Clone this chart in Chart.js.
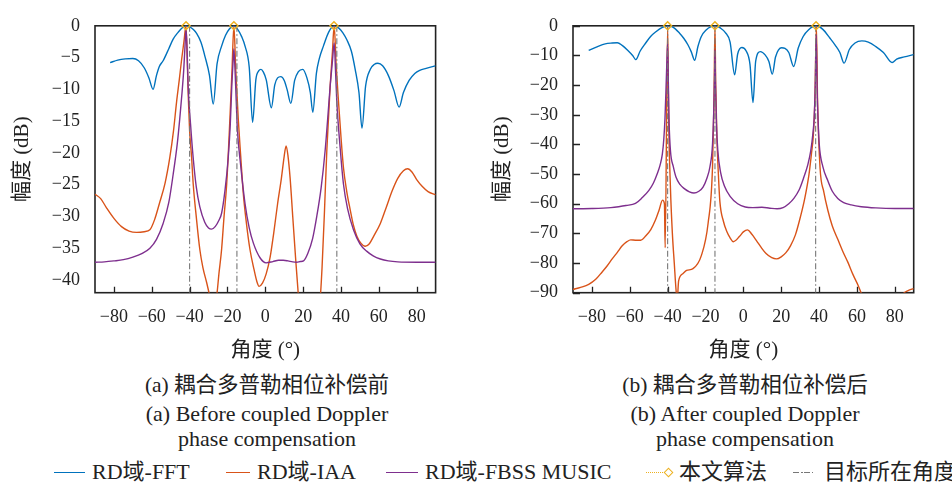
<!DOCTYPE html>
<html>
<head>
<meta charset="utf-8">
<script src="https://cdn.jsdelivr.net/npm/chart.js@4.4.1/dist/chart.umd.min.js"></script>
<style>
  html, body { margin:0; padding:0; background:#fff; }
  body { width:952px; height:483px; position:relative; overflow:hidden;
         font-family:'Liberation Serif','Noto Sans CJK SC',serif; color:#222; }
  canvas { position:absolute; top:0; }
  .cap { position:absolute; width:400px; text-align:center; font-size:22px; line-height:25px; white-space:nowrap; }
  .cz { font-size:21.5px; }
  .lg { position:absolute; top:460px; font-size:22px; line-height:24px; white-space:nowrap; }
  .sw { position:absolute; height:0; }
</style>
</head>
<body>
<canvas id="ca" width="476" height="365" style="left:0"></canvas>
<canvas id="cb" width="476" height="365" style="left:476px"></canvas>

<div class="cap cz" style="left:67px; top:373px">(a) 耦合多普勒相位补偿前</div>
<div class="cap" style="left:67px; top:401px">(a) Before coupled Doppler</div>
<div class="cap" style="left:67px; top:426px">phase compensation</div>
<div class="cap cz" style="left:545px; top:373px">(b) 耦合多普勒相位补偿后</div>
<div class="cap" style="left:545px; top:401px">(b) After coupled Doppler</div>
<div class="cap" style="left:545px; top:426px">phase compensation</div>

<div class="sw" style="left:54px; width:31px; top:472px; border-top:1.5px solid #0072BD"></div>
<div class="lg" style="left:92px">RD域-FFT</div>
<div class="sw" style="left:226px; width:24px; top:472px; border-top:1.5px solid #D95319"></div>
<div class="lg" style="left:257px">RD域-IAA</div>
<div class="sw" style="left:386px; width:32px; top:472px; border-top:1.5px solid #7E2F8E"></div>
<div class="lg" style="left:425px">RD域-FBSS MUSIC</div>
<div class="sw" style="left:646px; width:19px; top:472px; border-top:1.5px dotted #EDB120"></div>
<div class="sw" style="left:665px; top:469px; width:5px; height:5px; border:1.3px solid #EDB120; transform:rotate(45deg)"></div>
<div class="lg" style="left:679px">本文算法</div>
<div class="sw" style="left:793px; width:22px; top:472px; height:1.3px; background:repeating-linear-gradient(90deg,#777 0 6px,transparent 6px 8px,#777 8px 9.5px,transparent 9.5px 11px)"></div>
<div class="lg" style="left:824px">目标所在角度</div>

<script>
// ---------- tick labels ----------
const xTicks  = [-80, -60, -40, -20, 0, 20, 40, 60, 80];
const yTicksA = [0, -5, -10, -15, -20, -25, -30, -35, -40];
const yTicksB = [0, -10, -20, -30, -40, -50, -60, -70, -80, -90];

// ---------- (a) before compensation ----------
const angA_fft = [-82,-78,-74,-70,-67,-64,-61.5,-59.3,-57.5,-56,-54,-51,-48.7,-46,-44,-41.7,-40,-38,-36.3,-34,-31.9,-29.5,-27.5,-25.5,-23.1,-21,-19,-16.6,-14.5,-12.5,-10.7,-8.5,-6.7,-5,-3.5,-2.3,-1,0.5,3.2,5,6.5,8.2,10,11.5,13.5,15.5,17.5,19.8,22,23.8,25.1,27,28.5,30.7,33.5,36.4,39,41,43.1,45.5,47.5,49.5,51.1,53,55.5,57.5,59.5,62,65,68,70.7,73,76,79,81.6,85,90];
const dbA_fft  = [-5.8,-5.4,-5.2,-5.15,-5.5,-6.6,-8.2,-10,-7.8,-6.4,-5.5,-3.6,-2.1,-1.0,-0.35,0,-0.15,-0.6,-1.2,-2.6,-4.8,-7.8,-12.3,-6,-3.2,-1.5,-0.5,0,-0.6,-1.7,-3.2,-6.5,-15.2,-8.5,-7.1,-6.85,-7.3,-8.5,-12.9,-9.3,-8.2,-8.0,-8.6,-10,-12.2,-8.6,-7.2,-6.85,-8.2,-10.5,-13.6,-7.5,-5.2,-3.2,-1.0,0,-0.4,-1.1,-2.2,-4,-6.85,-10.5,-16.1,-9.5,-6.85,-6.1,-5.9,-6.3,-7.8,-10.2,-12.8,-10.5,-8.6,-7.5,-7,-6.7,-6.3];

const angA_iaa = [-90,-87,-84,-80,-76,-72,-68,-64,-61,-58.5,-56,-53,-50.5,-48.5,-46.9,-45.5,-44.3,-43,-41.9,-41.2,-40.6,-40,-39,-38.1,-36.5,-34.6,-33,-31,-29.3,-27.5,-25.7,-24.5,-23.1,-21.8,-20.4,-18.7,-17.6,-16.6,-15.6,-14.3,-13,-11.6,-10,-8.1,-6,-4.5,-3.3,-1.5,0.5,2.5,4.5,6.5,8.5,10,11,12,13.1,14.5,16,17.5,20,26,29,30,31.3,32.5,33.5,34.3,35.5,36.4,37.5,38.7,40,41.3,43,44.9,46.5,48.4,50.5,52.8,55,57.3,60.8,64,67,70,73,75.2,77.5,80,83,86,90];
const dbA_iaa  = [-26.5,-27.2,-28.6,-30.3,-31.6,-32.3,-32.5,-32.4,-32.1,-30.5,-28,-24.8,-20.8,-16.5,-12,-8.6,-5.5,-2.5,0,-6,-12,-16.5,-20.5,-24.9,-30,-35.2,-38,-40.4,-42.5,-44,-42.5,-39,-35.2,-30,-24.9,-14.6,-7,0,-7,-14.6,-20.5,-26.5,-31,-35.2,-38.3,-40.2,-41,-40.5,-39,-36.5,-32.5,-28,-24,-20.5,-18.9,-20.5,-23.9,-30,-36.5,-42.5,-50,-50,-43,-38,-29,-19.7,-14,-9.4,-4,0,-6.5,-12,-17.5,-22.3,-26,-29,-31.3,-33.1,-34.2,-34.7,-34.3,-33.1,-31.1,-28.5,-26,-24,-22.8,-22.5,-23,-24.2,-25.3,-26.1,-26.6];

const angA_mus = [-90,-85,-80,-75,-70,-65,-61,-57.5,-54,-51,-48.7,-46.5,-45.2,-44,-43.1,-42.4,-41.9,-41.3,-40.8,-39.5,-38.1,-36.5,-34.6,-32,-30,-28.4,-26.5,-24.5,-23.1,-21.3,-19.6,-18.5,-17.7,-17.1,-16.6,-16,-15.4,-14.8,-13,-10.7,-8.5,-6.3,-2.8,0.4,4,7,9.5,12,14.5,16.6,18.5,20.2,22.5,25,27.2,29.5,31.6,33,34.3,35.5,36.4,37.1,37.8,39.5,41.3,43.5,46.6,50,53.7,57,60.8,65,70,80,90];
const dbA_mus  = [-37.2,-37.15,-37.0,-36.8,-36.4,-35.8,-35,-33.6,-31.1,-27.8,-23.4,-18.5,-14.6,-10.5,-6.9,-3,-0.5,-4,-9.4,-15.5,-20.8,-25.3,-28.5,-30.9,-31.8,-32,-31.6,-30.6,-29.5,-25.9,-20.8,-15.5,-9.4,-6,-3.6,-7,-11.5,-16.1,-22,-28,-31.8,-34.2,-36.5,-37.3,-37.1,-36.9,-36.9,-37.0,-37.15,-37.2,-37.1,-37,-35.8,-33.5,-30,-25.5,-19.7,-14.5,-9.4,-5.5,-2.7,-7,-12,-19,-24.9,-28.8,-32.1,-34.3,-35.5,-36.2,-36.7,-37,-37.15,-37.2,-37.2];

const angA_ours = [-41.9, -16.6, 36.3];
const dbA_ours  = [0, 0, 0];
const targetsA  = [-40, -15, 37.8];

// ---------- (b) after compensation ----------
const angB_fft = [-81.7,-77,-73,-69.3,-66.6,-64,-61,-58.5,-56.8,-54.5,-51.6,-49,-46.2,-43,-40,-37,-33.7,-31.5,-29.3,-27.5,-25.7,-24,-22.2,-19.5,-17,-15,-12,-9.5,-7,-4.6,-3,-0.8,1.5,3.5,5.1,6.5,9,11.5,13.5,15.3,17,20.2,22,24,26.6,29,31.6,34.5,38.4,42,45.8,48.5,51,53.2,56,59,62.6,66,70,74,78.6,81,85,90];
const dbB_fft  = [-8.3,-7.0,-6.1,-5.8,-5.7,-6.6,-8.3,-10,-11.4,-8.5,-5.8,-3.6,-2,-0.6,0,-0.5,-2.5,-4.2,-6.4,-8.8,-11.6,-7,-3.6,-1.3,-0.3,0,-0.8,-2.3,-5.5,-16.5,-9.5,-7.3,-8.5,-13,-25.9,-12,-8.7,-9.8,-12,-16.3,-10.5,-7.4,-7.6,-9,-13.7,-7.5,-3.6,-1.3,0,-1.2,-4.2,-6.5,-9,-12.6,-8,-5.8,-5.1,-5.5,-7,-9,-12.4,-11.2,-10.5,-9.7];

const angB_iaa = [-90,-86,-81.7,-78,-74.6,-72,-69.3,-66.5,-64,-61.5,-59.5,-57,-54.2,-51.5,-48.9,-46.5,-44.5,-42.7,-41.7,-41.3,-40,-39.5,-38.5,-37.5,-36.5,-35.5,-34.9,-34.2,-32,-30,-26.6,-22.2,-18.6,-16.3,-15.5,-15,-14.6,-14,-13.2,-12.4,-10.5,-8.8,-7,-5.3,-2,0,2.2,4.5,7,9.5,12,15,17.5,20,22.5,24.9,27.5,30.2,32.5,34.7,36,37,37.8,38.6,39.2,40.5,42.5,44.6,47,49.9,52.5,55.2,58,60.6,62.5,66,75,82,84.5,87,90];
const dbB_iaa  = [-88.9,-88.2,-87.2,-85.5,-83,-81,-78.6,-76.3,-74.2,-72.8,-72.2,-72.3,-72.3,-70.8,-68.7,-65.6,-62.1,-58.8,-60,-74.8,0,-30,-55,-70,-80,-89.5,-92,-86,-83.6,-82.5,-81.9,-77.5,-66.5,-47.8,-25,0,-20,-37,-50,-59.3,-66,-69.3,-71.5,-72.8,-71,-69.5,-68.8,-70.3,-72.5,-74.8,-76.8,-78.2,-78.6,-77.9,-76.5,-74.2,-70.5,-64.3,-58,-50,-43,-36.7,-25,0,-25,-47.7,-56,-62.1,-67.5,-72,-76,-79.7,-84,-87.5,-90.5,-95,-100,-93,-90.3,-89.3,-88.6];

const angB_mus = [-90,-80,-70,-65.9,-62,-57,-53.5,-49.9,-47.5,-45.5,-44,-42.8,-42,-41.4,-40.8,-40.3,-40,-39.6,-39.2,-38.5,-37,-35.6,-33.5,-31.2,-28.5,-26.1,-23.5,-21.3,-19.3,-17.7,-16.3,-15.6,-15.2,-15,-14.7,-14.2,-13.5,-12,-10,-7,-3,1,5,9.8,14,17.8,21,24,26.7,29.5,32,34,35.6,36.8,37.4,38,38.5,39,39.5,40.1,42,44.6,47,49.9,53,57,62.3,70,80,90];
const dbB_mus  = [-61.7,-61.6,-61.3,-61,-60.6,-59.9,-58,-55.5,-53,-49.9,-47,-43.3,-38,-31.2,-20,-10,-6,-20,-33,-42.2,-47.5,-51,-53.5,-54.9,-56,-56.4,-55.8,-54.4,-51.5,-47.7,-40,-28,-16,-8,-20,-33,-42,-49.5,-54,-57.5,-60,-61.1,-61.3,-61.2,-61.5,-61.7,-61.3,-60,-58.2,-55.3,-51,-47,-42.2,-36,-31.2,-20,-3,-22,-32,-40,-47.5,-52.2,-55.8,-58.2,-59.6,-60.4,-61,-61.4,-61.6,-61.6];

const angB_ours = [-40, -15, 38.4];
const dbB_ours  = [0, 0, 0];
const targetsB  = [-40, -15, 38.2];

// ---------- helpers ----------
const C_FFT = '#0072BD', C_IAA = '#D95319', C_MUS = '#7E2F8E', C_OURS = '#EDB120', C_TGT = '#777777';
const pts = (xs, ys) => xs.map((x, i) => ({x: x, y: ys[i]}));
const fmt = v => String(v).replace('-', '\u2212');
const FAM = '"Liberation Serif", "Noto Sans CJK SC", serif';
const TICK_FONT = {family: FAM, size: 18};
const TITLE_FONT = {family: FAM, size: 21};
Chart.defaults.font.family = FAM;

const framePlugin = {
  id: 'frame',
  beforeDatasetsDraw(chart, args, opts) {
    const {ctx, chartArea: a, scales} = chart;
    ctx.save();
    ctx.strokeStyle = '#222';
    ctx.lineWidth = 1.3;
    ctx.beginPath();
    scales.x.ticks.forEach(t => {
      const px = Math.round(scales.x.getPixelForValue(t.value)) + 0.5;
      ctx.moveTo(px, a.bottom); ctx.lineTo(px, a.bottom - 6);
    });
    if (opts.yTicks) {
      scales.y.ticks.forEach(t => {
        const py = Math.round(scales.y.getPixelForValue(t.value)) + 0.5;
        ctx.moveTo(a.left, py); ctx.lineTo(a.left + 7, py);
      });
    }
    ctx.stroke();
    ctx.lineWidth = 1.6;
    ctx.strokeRect(a.left, a.top, a.right - a.left, a.bottom - a.top);
    ctx.restore();
  }
};

function curve(xs, ys, color, order) {
  return {data: pts(xs, ys), borderColor: color, borderWidth: 1.4, pointRadius: 0,
          cubicInterpolationMode: 'monotone', fill: false, order: order};
}

function makeChart(id, d) {
  const datasets = [
    curve(d.fftX, d.fftY, C_FFT, 5),
    curve(d.iaaX, d.iaaY, C_IAA, 4),
    curve(d.musX, d.musY, C_MUS, 3),
    {data: pts(d.oursX, d.oursY), showLine: false, pointStyle: 'rectRot', pointRadius: 4,
     pointBorderColor: C_OURS, pointBackgroundColor: 'rgba(255,255,255,0)', pointBorderWidth: 1.4,
     borderColor: C_OURS, clip: false, order: 0}
  ];
  d.targets.forEach(t => datasets.push({
    data: [{x: t, y: 0}, {x: t, y: d.yMin}], borderColor: C_TGT, borderWidth: 1.1,
    borderDash: [6, 2.5, 1.5, 2.5], pointRadius: 0, fill: false, order: 1
  }));
  new Chart(document.getElementById(id), {
    type: 'line',
    data: {datasets: datasets},
    options: {
      responsive: false, animation: false, events: [],
      layout: {padding: {left: 0, right: d.padRight, top: 20.7, bottom: 0}},
      plugins: {legend: {display: false}, tooltip: {enabled: false}, frame: {yTicks: d.yTickMarks}},
      scales: {
        x: {
          type: 'linear', min: -90, max: 90,
          afterBuildTicks: ax => { ax.ticks = xTicks.map(v => ({value: v})); },
          afterFit: ax => { ax.height = 72.3; },
          grid: {display: false, drawTicks: false}, border: {display: false},
          ticks: {padding: 14, font: TICK_FONT, color: '#222', maxRotation: 0, autoSkip: false, callback: fmt},
          title: {display: true, text: '角度 (°)', font: TITLE_FONT, color: '#222', padding: {top: 0, bottom: 2.4}}
        },
        y: {
          type: 'linear', min: d.yMin, max: 0,
          afterBuildTicks: ax => { ax.ticks = d.yTicks.map(v => ({value: v})); },
          afterFit: ax => { ax.width = d.yWidth; },
          grid: {display: false, drawTicks: false}, border: {display: false},
          ticks: {padding: 15, font: TICK_FONT, color: '#222', autoSkip: false, callback: fmt},
          title: {display: true, text: '幅度 (dB)', font: TITLE_FONT, color: '#222', padding: {top: d.titlePad, bottom: 0}}
        }
      }
    },
    plugins: [framePlugin]
  });
}

function build() {
  makeChart('ca', {fftX: angA_fft, fftY: dbA_fft, iaaX: angA_iaa, iaaY: dbA_iaa, musX: angA_mus, musY: dbA_mus,
    oursX: angA_ours, oursY: dbA_ours, targets: targetsA, yMin: -42, yTicks: yTicksA,
    yWidth: 95, padRight: 40.4, titlePad: 9.9, yTickMarks: false});
  makeChart('cb', {fftX: angB_fft, fftY: dbB_fft, iaaX: angB_iaa, iaaY: dbB_iaa, musX: angB_mus, musY: dbB_mus,
    oursX: angB_ours, oursY: dbB_ours, targets: targetsB, yMin: -90, yTicks: yTicksB,
    yWidth: 97, padRight: 38.3, titlePad: 13.9, yTickMarks: true});
}
let built = false;
const go = () => { if (!built) { built = true; build(); } };
if (document.fonts && document.fonts.load) {
  Promise.all([document.fonts.load('18px "Liberation Serif"'), document.fonts.load('18px "Noto Sans CJK SC"', '幅度角')])
    .then(go, go);
  setTimeout(go, 1500);
} else { go(); }
</script>
</body>
</html>
